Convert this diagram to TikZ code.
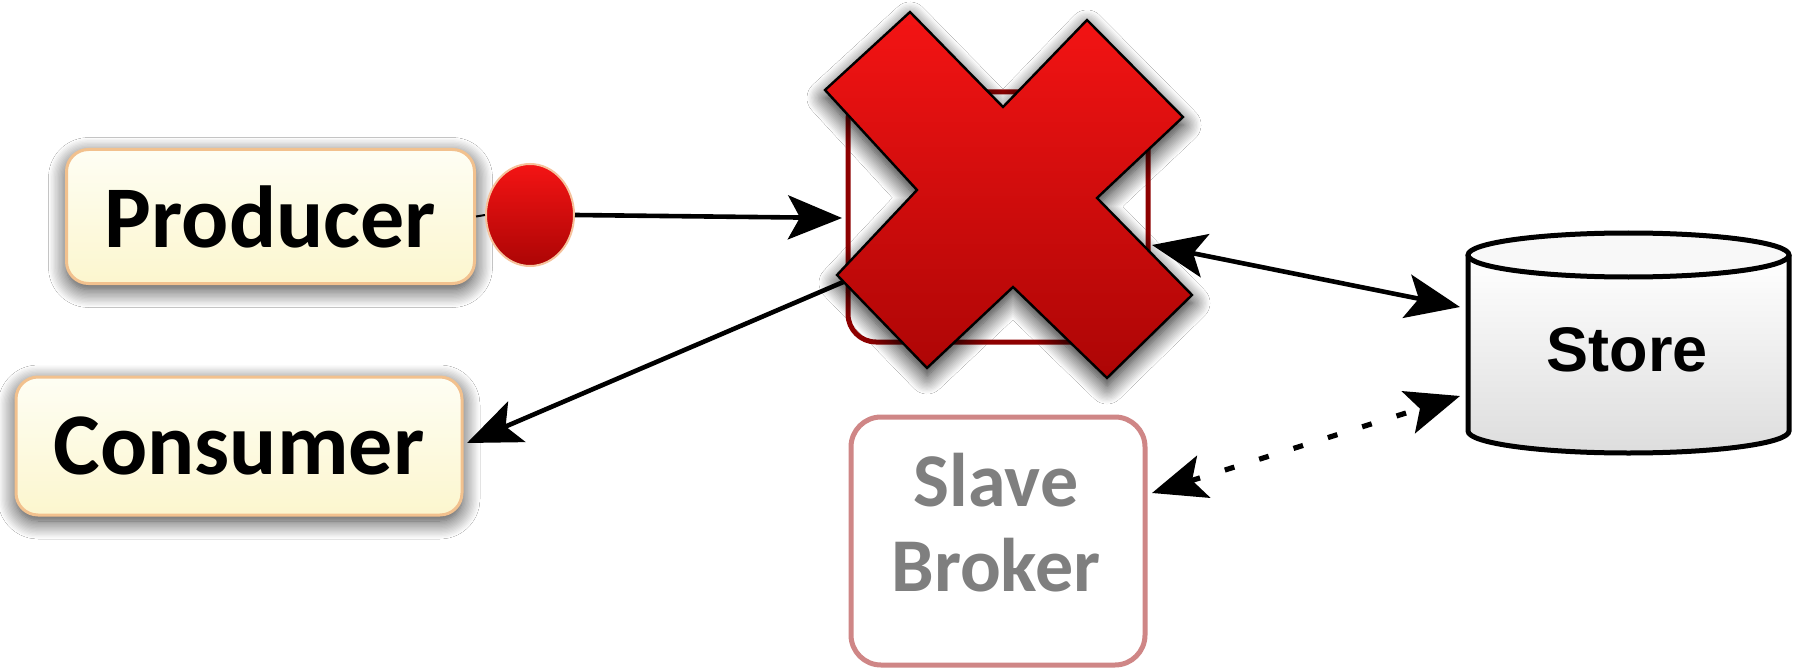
\documentclass[tikz,border=0pt]{standalone}
\usepackage{fontspec}
\newfontfamily\carlito{Carlito}
\newfontfamily\libsans{Liberation Sans}
\usetikzlibrary{arrows.meta,shapes.geometric,shadows.blur,calc}

\definecolor{clienttop}{HTML}{FEFEF4}
\definecolor{clientbot}{HTML}{FCF6CE}
\definecolor{clientedge}{HTML}{F2C18E}
\definecolor{xredtop}{HTML}{F41414}
\definecolor{xredbot}{HTML}{AC0505}
\definecolor{brokeredge}{HTML}{8E0000}
\definecolor{slaveedge}{HTML}{CF8686}
\definecolor{slavetext}{HTML}{7F7F7F}
\definecolor{dotedge}{HTML}{F6C29C}
\definecolor{storebot}{HTML}{DDDDDD}
\definecolor{storetop}{HTML}{F8F8F8}

\begin{document}
\begin{tikzpicture}[x=0.5pt,y=-0.5pt,
  client/.style={draw=clientedge, line width=1.5pt, rounded corners=11pt,
    top color=clienttop, bottom color=clientbot,
    blur shadow={shadow xshift=0pt, shadow yshift=-3pt, shadow blur radius=9pt,
      shadow blur steps=14, shadow opacity=80},
    font=\carlito\bfseries\fontsize{44}{48}\selectfont, inner sep=0pt},
  msgdot/.style={ellipse, draw=dotedge, line width=1pt, top color=xredtop,
    bottom color=xredbot, minimum width=44pt, minimum height=51pt, inner sep=0pt},
  brokerbox/.style={draw=brokeredge, line width=2.5pt, rounded corners=14pt,
    fill=white, minimum width=150pt, minimum height=125pt, inner sep=0pt},
  slavebox/.style={draw=slaveedge, line width=2.5pt, rounded corners=15pt,
    fill=white, minimum width=147pt, minimum height=124pt, inner sep=0pt},
  slavelabel/.style={text=slavetext, align=center,
    font=\carlito\bfseries\fontsize{38}{42.5}\selectfont, inner sep=0pt},
  storelabel/.style={font=\libsans\bfseries\fontsize{31.5}{36}\selectfont, inner sep=0pt},
  tip/.style={-{Stealth[length=27pt,width=22pt,inset=6pt]}},
  arr/.style={line width=2.3pt, tip},
  biarr/.style={line width=2.3pt,
    {Stealth[length=27pt,width=22pt,inset=6pt]}-{Stealth[length=27pt,width=22pt,inset=6pt]}},
  dotarr/.style={biarr, line width=2.6pt, dash pattern=on 5pt off 13pt},
  cross/.style={draw=black, line width=1.2pt, line join=miter,
    top color=xredtop, bottom color=xredbot,
    blur shadow={shadow xshift=0pt, shadow yshift=-4pt, shadow blur radius=9pt,
      shadow blur steps=14, shadow opacity=90}},
  cylline/.style={draw=black, line width=2.5pt}
]
\useasboundingbox (0,0) rectangle (1797,668);
\fill[white] (0,0) rectangle (1797,668);

% clients
\node[client, minimum width=204pt, minimum height=67pt] (producer) at (270.5,216.5) {Producer};
\node[client, minimum width=223pt, minimum height=69pt] (consumer) at (239,446) {Consumer};

% message leaving the producer
\node[msgdot] (dot) at (530,215) {};
\draw[line width=1pt] (producer.east) -- (dot.west);

% failed master broker and its standby
\node[brokerbox] (broker) at (998,217) {};
\node[slavebox] (slave) at (998,541) {};
\node[slavelabel] (slavelbl) at (996,523) {Slave\\Broker};

% shared store (cylinder)
\path[top color=white, bottom color=storebot]
  (1468,255) -- (1468,431) arc[start angle=180, end angle=0, x radius=160.5, y radius=22]
  -- (1789,255) -- cycle;
\path[fill=storetop] (1628.5,255) ellipse[x radius=160.5, y radius=22];
\draw[cylline] (1789,255) -- (1789,431)
  arc[start angle=0, end angle=180, x radius=160.5, y radius=22] -- (1468,255);
\draw[cylline] (1628.5,255) ellipse[x radius=160.5, y radius=22];
\node[storelabel] (store) at (1627,350) {Store};

% connectors
\draw[arr] (dot.east) -- ($(broker.center)+(-156,1)$);
\draw[arr] ($(broker.center)+(-150,63)$) -- ($(consumer.center)+(228,-3)$);
\draw[biarr] ($(broker.center)+(154,28)$) -- ($(store.center)+(-167,-43)$);
\draw[dotarr] ($(slave.center)+(154,-48)$) -- ($(store.center)+(-167,46)$);

% failure mark over the master broker
\path[cross] (910,12) -- (1003,107) -- (1087,20) -- (1183,117) -- (1097,198)
  -- (1192,295) -- (1107,378) -- (1013,287) -- (927,368) -- (837,275)
  -- (917,190) -- (825,90) -- cycle;
\end{tikzpicture}
\end{document}
